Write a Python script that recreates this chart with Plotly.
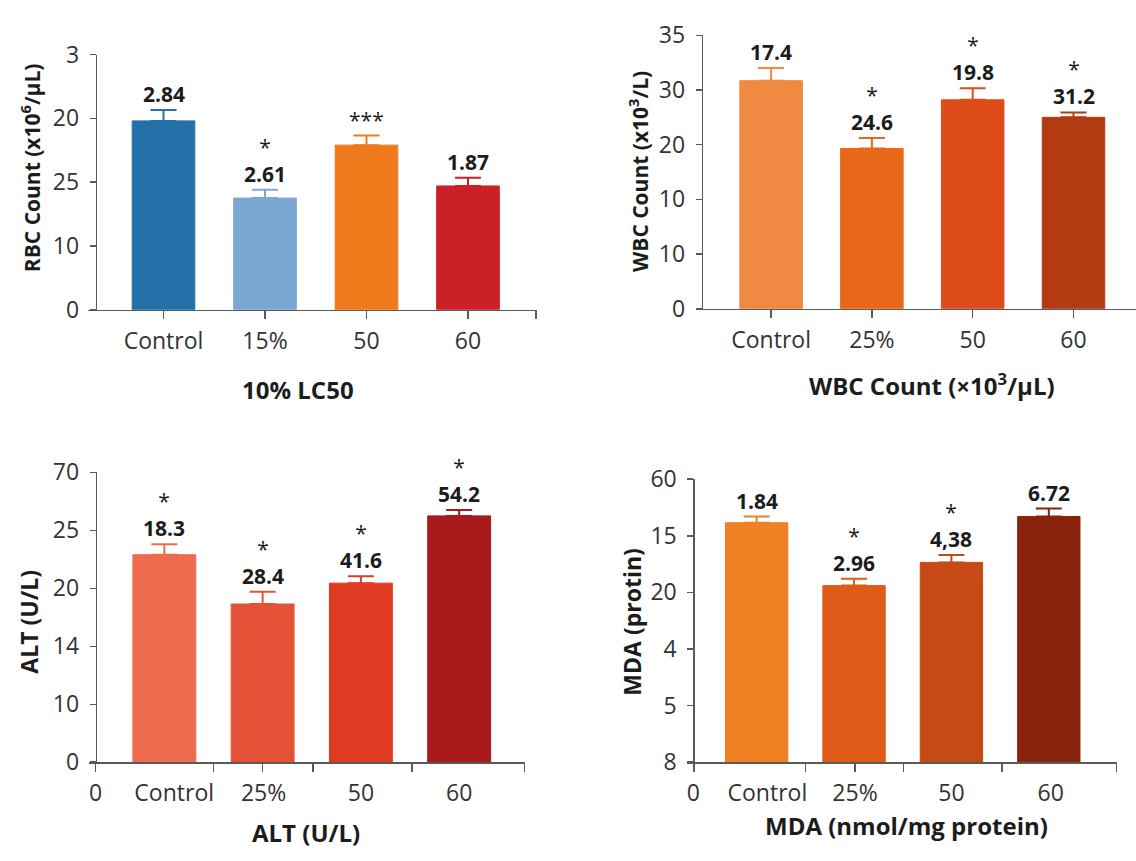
import plotly.graph_objects as go

W, H = 1136, 861

# ---------------- data (bar heights in axis-tick units) ----------------
rbc_cats = ["Control", "15%", "50", "60"]
rbc_vals = [2.96, 1.75, 2.58, 1.94]
rbc_errs = [0.17, 0.13, 0.15, 0.13]
rbc_labels = ["2.84", "2.61", "", "1.87"]
rbc_stars = ["", "*", "***", ""]
rbc_yticks = ["0", "10", "25", "20", "3"]
rbc_colors = ["#2470A8", "#7BA7D3", "#EE7A1C", "#CB2027"]

wbc_cats = ["Control", "25%", "50", "60"]
wbc_vals = [4.17, 2.93, 3.82, 3.50]
wbc_errs = [0.23, 0.19, 0.21, 0.09]
wbc_labels = ["17.4", "24.6", "19.8", "31.2"]
wbc_stars = ["", "*", "*", "*"]
wbc_yticks = ["0", "10", "10", "20", "30", "35"]
wbc_colors = ["#F08A42", "#E8671B", "#DE4C19", "#B23B12"]

alt_cats = ["0", "Control", "25%", "50", "60"]
alt_vals = [3.58, 2.73, 3.09, 4.25]
alt_errs = [0.18, 0.21, 0.12, 0.10]
alt_labels = ["18.3", "28.4", "41.6", "54.2"]
alt_stars = ["*", "*", "*", "*"]
alt_yticks = ["0", "10", "14", "20", "25", "70"]
alt_colors = ["#EE6C4D", "#E35237", "#DF3B22", "#A81A1C"]

mda_cats = ["0", "Control", "25%", "50", "60"]
mda_vals = [4.23, 3.12, 3.53, 4.34]
mda_errs = [0.11, 0.12, 0.13, 0.14]
mda_labels = ["1.84", "2.96", "4,38", "6.72"]
mda_stars = ["", "*", "*", ""]
mda_yticks = ["8", "5", "4", "20", "15", "60"]
mda_colors = ["#EF8024", "#DE5C17", "#C64A15", "#8A230B"]

# ---------------- layout geometry (pixels) ----------------
FONT = "Open Sans"
panels = [
    dict(vals=rbc_vals, errs=rbc_errs, labels=rbc_labels, stars=rbc_stars,
         yticks=rbc_yticks, colors=rbc_colors,
         xdom=(88, 537), ydom=(39, 304), ypos=95.7, xr=(-0.744, 3.68),
         tlabels=rbc_cats, tlabelpos=[0, 1, 2, 3], tickpos=[0, 1, 2, 3, 3.67],
         width=0.617,
         xtitle="10% LC50", xt=(298, 387),
         ytitle="RBC Count (x10<sup>6</sup>/µL)", yt=(30, 157)),
    dict(vals=wbc_vals, errs=wbc_errs, labels=wbc_labels, stars=wbc_stars,
         yticks=wbc_yticks, colors=wbc_colors,
         xdom=(695.5, 1136), ydom=(19, 303), ypos=701.7, xr=(-0.75, 3.62),
         tlabels=wbc_cats, tlabelpos=[0, 1, 2, 3], tickpos=[0, 1, 2, 3],
         width=0.62,
         xtitle="WBC Count (×10<sup>3</sup>/µL)", xt=(932, 382),
         ytitle="WBC Count (x10<sup>3</sup>/L)", yt=(638, 161)),
    dict(vals=alt_vals, errs=alt_errs, labels=alt_labels, stars=alt_stars,
         yticks=alt_yticks, colors=alt_colors,
         xdom=(88.6, 525), ydom=(473, 774), ypos=95.7, xr=(-0.771, 3.67),
         tlabels=alt_cats, tlabelpos=[-0.70, 0.1, 1.01, 2.0, 3.0],
         tickpos=[-0.70, 0.5, 1.0, 1.51, 2.52, 3.665],
         width=0.64,
         xtitle="ALT (U/L)", xt=(306, 847),
         ytitle="ALT (U/L)", yt=(29, 628)),
    dict(vals=mda_vals, errs=mda_errs, labels=mda_labels, stars=mda_stars,
         yticks=mda_yticks, colors=mda_colors,
         xdom=(686.8, 1117), ydom=(480, 774), ypos=693.3, xr=(-0.717, 3.70),
         tlabels=mda_cats, tlabelpos=[-0.65, 0.11, 1.01, 2.0, 3.02],
         tickpos=[-0.645, 0.5, 1.01, 1.51, 2.52, 3.695],
         width=0.64,
         xtitle="MDA (nmol/mg protein)", xt=(906, 840),
         ytitle="MDA (protin)", yt=(632, 628)),
]

fig = go.Figure()
annotations = []
layout = {}
AX = "#5a5a5a"
TXT = "#1c1c1c"

for i, p in enumerate(panels):
    n = "" if i == 0 else str(i + 1)
    xa, ya = "x" + n, "y" + n
    for j, v in enumerate(p["vals"]):
        fig.add_trace(go.Bar(
            x=[j], y=[v], xaxis=xa, yaxis=ya, width=p["width"],
            marker=dict(color=p["colors"][j], line=dict(color=p["colors"][j], width=1)),
            error_y=dict(type="data", symmetric=False, array=[p["errs"][j]],
                         arrayminus=[0], color=p["colors"][j], thickness=2, width=13),
            showlegend=False, hoverinfo="skip"))
        top = v + p["errs"][j]
        parts = []
        if p["stars"][j]:
            parts.append(p["stars"][j])
        if p["labels"][j]:
            parts.append("<b>%s</b>" % p["labels"][j])
        if parts:
            annotations.append(dict(x=j, y=top, xref=xa, yref=ya, text="<br>".join(parts),
                                    showarrow=False, yanchor="bottom", yshift=0,
                                    font=dict(family=FONT, size=21, color=TXT)))
    # axes
    x0, x1 = p["xdom"]
    yt0, yt1 = p["ydom"]
    xaxis = dict(domain=[x0 / W, x1 / W], range=list(p["xr"]), anchor=ya,
                 tickmode="array", tickvals=p["tlabelpos"], ticktext=p["tlabels"],
                 showline=True, linecolor=AX, linewidth=1.5, showgrid=False, zeroline=False,
                 ticks="", tickfont=dict(family=FONT, size=23, color="#333"),
                 ticklabelstandoff=10,
                 minor=dict(tickmode="array", tickvals=p["tickpos"], ticks="outside",
                            ticklen=8, tickwidth=1.5, tickcolor=AX, showgrid=False))
    yaxis = dict(domain=[1 - yt1 / H, 1 - yt0 / H], range=[0, len(p["yticks"]) - 1],
                 anchor="free", position=p["ypos"] / W,
                 tickmode="array", tickvals=list(range(len(p["yticks"]))), ticktext=p["yticks"],
                 showline=True, linecolor=AX, linewidth=1.5, showgrid=False, zeroline=False,
                 ticks="outside", ticklen=6, tickwidth=1.5, tickcolor=AX,
                 tickfont=dict(family=FONT, size=23, color="#333"), ticklabelstandoff=6)
    layout["xaxis" + n] = xaxis
    layout["yaxis" + n] = yaxis
    annotations.append(dict(x=p["xt"][0] / W, y=1 - p["xt"][1] / H, xref="paper", yref="paper",
                            text="<b>%s</b>" % p["xtitle"], showarrow=False,
                            xanchor="center", yanchor="middle",
                            font=dict(family=FONT, size=24, color=TXT)))
    annotations.append(dict(x=p["yt"][0] / W, y=1 - p["yt"][1] / H, xref="paper", yref="paper",
                            text="<b>%s</b>" % p["ytitle"], showarrow=False, textangle=-90,
                            xanchor="center", yanchor="middle",
                            font=dict(family=FONT, size=21 if i < 2 else 23, color=TXT)))

fig.update_layout(width=W, height=H, margin=dict(l=0, r=0, t=0, b=0),
                  paper_bgcolor="white", plot_bgcolor="white", showlegend=False,
                  annotations=annotations, bargap=0, **layout)

fig.write_html("out.html", config={"displayModeBar": False, "staticPlot": True},
               post_script="document.body.style.margin='0';document.body.style.overflow='hidden';")
